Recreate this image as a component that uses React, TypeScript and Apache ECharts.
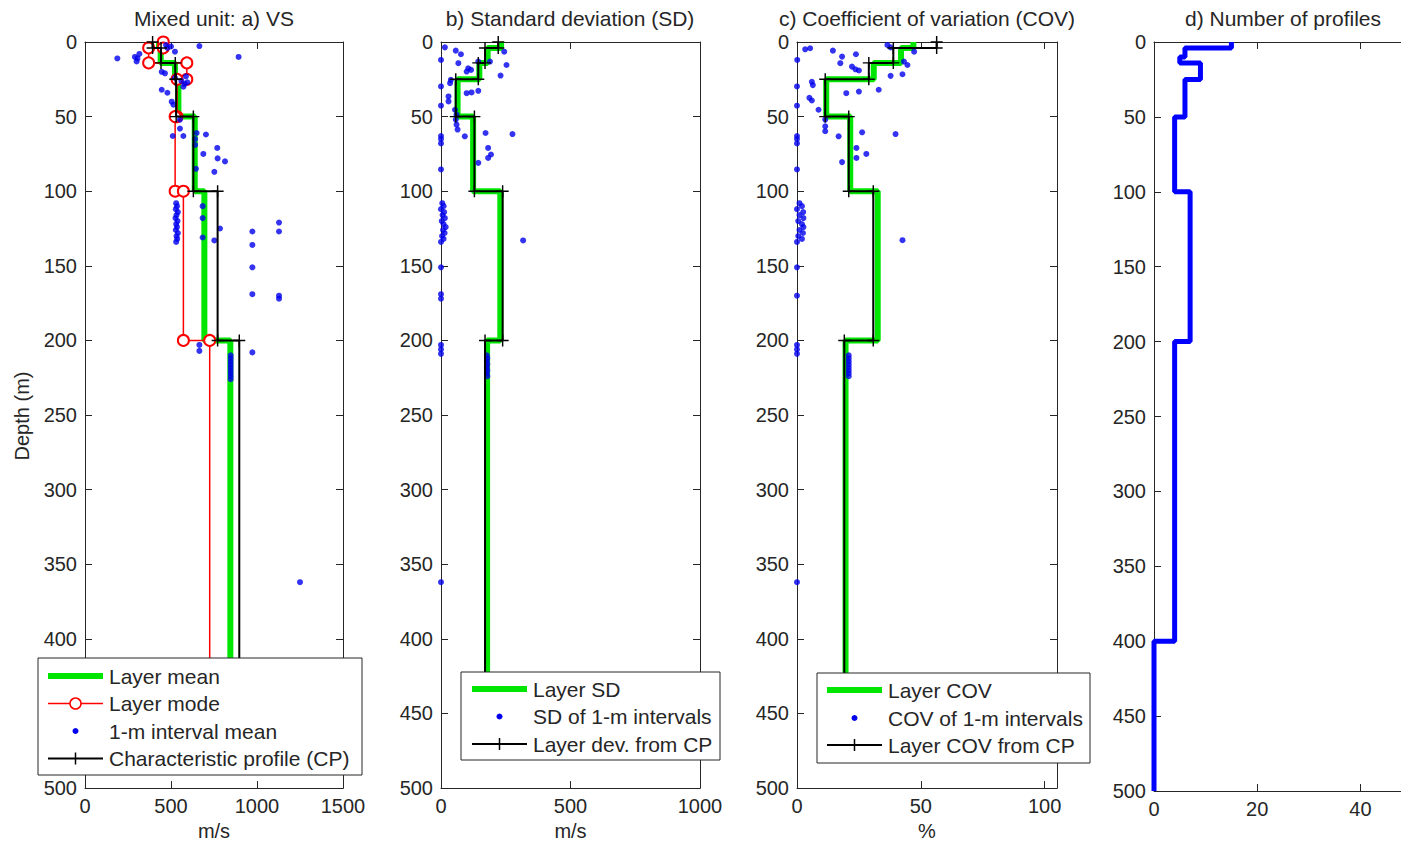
import React, { useEffect, useRef } from "react";
import * as echarts from "echarts";

// ---------- data ----------
const layerTops = [0, 4, 14, 25, 50, 100, 200];
const layerBottoms = [4, 14, 25, 50, 100, 200, 450];

// a) VS (m/s)
const vsLayerMean = [430, 440, 523, 543, 638, 694, 845];
const vsLayerMode = [455, 370, 592, 535, 524, 572, 725];
const vsCP = [393, 442, 525, 530, 630, 771, 897];
const vsIntervalMean = [
  [188, 11], [316, 8], [300, 13], [290, 10], [305, 11], [471, 2], [479, 4], [500, 3], [523, 6.5], [665, 2.7], [893, 10],
  [446, 20], [465, 21], [523, 24], [587, 23], [560, 26], [580, 28], [595, 27], [572, 30], [446, 32], [479, 34],
  [504, 40], [514, 42], [552, 52], [552, 58], [510, 63], [572, 63], [649, 61], [703, 62], [640, 65], [640, 69],
  [769, 71], [688, 75], [771, 78], [814, 80], [645, 85], [752, 87],
  [530, 108], [535, 110], [528, 112], [540, 114], [532, 116], [526, 118], [538, 120], [530, 122], [535, 124],
  [528, 126], [540, 128], [532, 130], [536, 132], [530, 134],
  [684, 110], [684, 118], [684, 131], [785, 125], [752, 133], [973, 127], [973, 136], [973, 151], [973, 169],
  [1128, 121], [1128, 127], [1128, 170], [1128, 172], [665, 203], [665, 207], [973, 208],
  [847, 210], [847, 212], [847, 214], [847, 216], [847, 218], [847, 220], [847, 222], [847, 224], [847, 226],
  [1250, 362],
];

// b) SD (m/s)
const sdLayer = [232, 180, 148, 64, 124, 229, 178];
const sdFromCP = [221, 170, 144, 57, 129, 238, 170];
const sdIntervals = [
  [15, 3.6], [0, 12], [57, 5.8], [77, 8.2], [67, 14.2], [105, 17.6], [99, 19.8], [116, 18.7], [144, 13.1],
  [189, 13.1], [244, 6.5], [253, 15.4], [230, 22.5], [38, 25.4], [35, 27.6], [0, 29.8], [99, 34.3], [118, 33.8],
  [144, 32.7], [29, 36.5], [29, 39.8], [0, 42.7], [54, 45.4], [60, 48.7], [57, 52], [60, 55.4], [64, 58.7],
  [0, 63], [0, 65], [0, 68], [92, 63.2], [172, 61], [276, 61.7], [182, 71], [193, 75.4], [182, 77.7], [144, 81],
  [0, 85.4], [5, 108], [10, 110], [0, 112], [12, 114], [6, 116], [15, 118], [3, 120], [10, 122], [18, 124],
  [8, 126], [14, 128], [4, 130], [10, 132], [0, 134], [0, 151], [0, 169], [0, 172], [0, 203], [0, 206], [0, 209],
  [317, 133], [177, 210], [179, 212], [177, 214], [179, 216], [177, 218], [179, 220], [177, 222], [179, 224],
  [0, 362],
];

// c) COV (%)
const covLayer = [47, 42, 31, 11.8, 21.5, 32.6, 19.6];
const covFromCP = [56.4, 38.9, 29, 11.4, 20.9, 30.8, 19.1];
const covIntervals = [
  [0.1, 12], [3.3, 4.9], [5.3, 4.2], [14.5, 5.8], [18.2, 9.8], [17.5, 14.2], [23.8, 8.2], [22.2, 16.5],
  [23.6, 18.3], [25, 19.1], [36.5, 2], [37.8, 3.6], [43.2, 13.1], [44.6, 15.4], [47.3, 6.5], [42.6, 21.6],
  [37.8, 22.7], [33, 32], [25, 33.2], [19.9, 34.3], [6, 26.7], [6.4, 28.9], [0, 29.8], [5, 37.4], [6, 39.2],
  [8.7, 45.4], [0, 42.7], [11.4, 52], [11.4, 56.5], [11.4, 59.8], [16.8, 63.2], [26.3, 60.5], [39.8, 61.7],
  [24, 71], [28, 75], [24, 77.7], [18.2, 80.5], [0, 63], [0, 65], [0, 68], [0, 85.4],
  [1, 108], [2, 110], [0, 112], [2.5, 114], [1, 116], [2.6, 118], [0.5, 120], [2, 122], [2.6, 124], [1, 126],
  [2.4, 128], [0.5, 130], [2, 132], [0, 134], [0, 151], [0, 170], [42.6, 132.8], [0, 203], [0, 206], [0, 209],
  [20.9, 210], [20.9, 212], [20.9, 214], [20.9, 216], [20.9, 218], [20.9, 220], [20.9, 222], [20.9, 224],
  [0, 362],
];

// d) Number of profiles
const profileDepthTops = [0, 4, 10, 14, 25, 50, 100, 200, 400];
const profileDepthBottoms = [4, 10, 14, 25, 50, 100, 200, 400, 500];
const profileCounts = [15, 6, 5, 9, 6, 4, 7, 4, 0];

const depthTicks = { min: 0, max: 500, interval: 50 };

// ---------- styles ----------
const FONT = "Liberation Sans, Arial, Helvetica, sans-serif";
const TXT = "#262626";
const GREEN = "#00e600";
const RED = "#ff0000";
const BLUE = "#0000ee";
const BLACK = "#000000";
const PLUS = "path://M4.4,0H5.6V4.4H10V5.6H5.6V10H4.4V5.6H0V4.4H4.4Z";

const grids = [
  { left: 85, width: 258 },
  { left: 441, width: 259 },
  { left: 797, width: 260 },
  { left: 1154, width: 258 },
];
const GRID_TOP = 42;
const GRID_H = 749;

function steps(values: number[], tops: number[], bottoms: number[]) {
  const pts: number[][] = [];
  values.forEach((v, i) => {
    pts.push([v, tops[i]]);
    pts.push([v, bottoms[i]]);
  });
  return pts;
}

function xAxesFor(gi: number, max: number, interval: number, name: string, labelMax: number) {
  const common = {
    gridIndex: gi,
    type: "value",
    min: 0,
    max,
    interval,
    splitLine: { show: false },
    axisLine: { show: true, onZero: false, lineStyle: { color: TXT, width: 1 } },
    axisTick: { show: true, inside: true, length: 7, lineStyle: { color: TXT, width: 1 } },
  };
  return [
    {
      ...common,
      position: "bottom",
      name,
      nameLocation: "middle",
      nameGap: 32,
      nameTextStyle: { color: TXT, fontSize: 20, fontFamily: FONT },
      axisLabel: {
        show: true,
        margin: 8,
        color: TXT,
        fontSize: 20,
        fontFamily: FONT,
        formatter: (v: number) => (v > labelMax ? "" : String(v)),
      },
    },
    { ...common, position: "top", axisLabel: { show: false } },
  ];
}

function yAxesFor(gi: number) {
  const common = {
    gridIndex: gi,
    type: "value",
    inverse: true,
    ...depthTicks,
    splitLine: { show: false },
    axisLine: { show: true, onZero: false, lineStyle: { color: TXT, width: 1 } },
    axisTick: { show: true, inside: true, length: 7, lineStyle: { color: TXT, width: 1 } },
  };
  return [
    {
      ...common,
      position: "left",
      axisLabel: { show: true, margin: 8, color: TXT, fontSize: 20, fontFamily: FONT },
    },
    { ...common, position: "right", axisLabel: { show: false } },
  ];
}

function text(x: number, y: number, t: string, extra: any = {}, size = 21) {
  return {
    type: "text",
    x,
    y,
    z: 101,
    ...extra,
    style: {
      text: t,
      fill: TXT,
      fontSize: size,
      fontFamily: FONT,
      align: extra.align || "left",
      textAlign: extra.align || "left",
      verticalAlign: "middle",
      textVerticalAlign: "middle",
    },
  };
}

type Entry = { kind: "thick" | "circle" | "dot" | "plus"; label: string };

function legend(x: number, y: number, w: number, h: number, rows: number[], iconX: number, entries: Entry[]) {
  const els: any[] = [
    { type: "rect", z: 100, shape: { x, y, width: w, height: h }, style: { fill: "#ffffff", stroke: TXT, lineWidth: 1 } },
  ];
  entries.forEach((e, i) => {
    const cy = rows[i];
    const x1 = iconX;
    const x2 = iconX + 55;
    const mx = (x1 + x2) / 2;
    if (e.kind === "thick") {
      els.push({ type: "line", z: 101, shape: { x1, y1: cy, x2, y2: cy }, style: { stroke: GREEN, lineWidth: 6 } });
    } else if (e.kind === "circle") {
      els.push({ type: "line", z: 101, shape: { x1, y1: cy, x2, y2: cy }, style: { stroke: RED, lineWidth: 1.5 } });
      els.push({ type: "circle", z: 102, shape: { cx: mx, cy, r: 5.5 }, style: { fill: "#ffffff", stroke: RED, lineWidth: 1.5 } });
    } else if (e.kind === "dot") {
      els.push({ type: "circle", z: 101, shape: { cx: mx, cy, r: 3 }, style: { fill: BLUE } });
    } else {
      els.push({ type: "line", z: 101, shape: { x1, y1: cy, x2, y2: cy }, style: { stroke: BLACK, lineWidth: 2 } });
      els.push({ type: "line", z: 102, shape: { x1: mx, y1: cy - 6, x2: mx, y2: cy + 6 }, style: { stroke: BLACK, lineWidth: 1.5 } });
    }
    els.push(text(x2 + 6, cy, e.label, { z: 102 }));
  });
  return els;
}

export default function App() {
  const ref = useRef<HTMLDivElement>(null);

  useEffect(() => {
    if (!ref.current) return;
    const chart = echarts.init(ref.current, null, { renderer: "svg" });

    const thickLine = (name: string, data: number[][], gi: number) => ({
      name,
      type: "line",
      xAxisIndex: gi * 2,
      yAxisIndex: gi * 2,
      data,
      symbol: "none",
      lineStyle: { color: GREEN, width: 6 },
      itemStyle: { color: GREEN },
      z: 2,
    });
    const plusLine = (name: string, data: number[][], gi: number) => ({
      name,
      type: "line",
      xAxisIndex: gi * 2,
      yAxisIndex: gi * 2,
      data,
      symbol: PLUS,
      symbolSize: 12,
      showSymbol: true,
      lineStyle: { color: BLACK, width: 2 },
      itemStyle: { color: BLACK },
      z: 5,
    });
    const dots = (name: string, data: number[][], gi: number) => ({
      name,
      type: "scatter",
      xAxisIndex: gi * 2,
      yAxisIndex: gi * 2,
      data,
      symbol: "circle",
      symbolSize: 6,
      itemStyle: { color: BLUE },
      z: 4,
    });

    const option: any = {
      animation: false,
      backgroundColor: "#ffffff",
      grid: grids.map((g) => ({ left: g.left, width: g.width, top: GRID_TOP, height: GRID_H, containLabel: false })),
      xAxis: [
        ...xAxesFor(0, 1500, 500, "m/s", 1500),
        ...xAxesFor(1, 1000, 500, "m/s", 1000),
        ...xAxesFor(2, 105, 50, "%", 100),
        ...xAxesFor(3, 50, 20, "", 40),
      ],
      yAxis: [...yAxesFor(0), ...yAxesFor(1), ...yAxesFor(2), ...yAxesFor(3)],
      series: [
        thickLine("Layer mean", steps(vsLayerMean, layerTops, layerBottoms), 0),
        {
          name: "Layer mode",
          type: "line",
          xAxisIndex: 0,
          yAxisIndex: 0,
          data: steps(vsLayerMode, layerTops, layerBottoms),
          symbol: "emptyCircle",
          symbolSize: 11,
          showSymbol: true,
          lineStyle: { color: RED, width: 1.5 },
          itemStyle: { color: RED, borderColor: RED, borderWidth: 1.5 },
          z: 3,
        },
        dots("1-m interval mean", vsIntervalMean, 0),
        plusLine("Characteristic profile (CP)", steps(vsCP, layerTops, layerBottoms), 0),

        thickLine("Layer SD", steps(sdLayer, layerTops, layerBottoms), 1),
        dots("SD of 1-m intervals", sdIntervals, 1),
        plusLine("Layer dev. from CP", steps(sdFromCP, layerTops, layerBottoms), 1),

        thickLine("Layer COV", steps(covLayer, layerTops, layerBottoms), 2),
        dots("COV of 1-m intervals", covIntervals, 2),
        plusLine("Layer COV from CP", steps(covFromCP, layerTops, layerBottoms), 2),

        {
          name: "Number of profiles",
          type: "line",
          xAxisIndex: 6,
          yAxisIndex: 6,
          data: steps(profileCounts, profileDepthTops, profileDepthBottoms),
          symbol: "none",
          lineStyle: { color: "#0000ff", width: 5 },
          z: 3,
        },
      ],
      graphic: [
        text(214, 18, "Mixed unit: a) VS", { align: "center" }),
        text(570, 18, "b) Standard deviation (SD)", { align: "center" }),
        text(927, 18, "c) Coefficient of variation (COV)", { align: "center" }),
        text(1283, 18, "d) Number of profiles", { align: "center" }),
        text(22, 416, "Depth (m)", { align: "center", rotation: Math.PI / 2 }, 20),
        ...legend(38, 658, 324, 117, [676, 703.5, 731, 758.5], 48, [
          { kind: "thick", label: "Layer mean" },
          { kind: "circle", label: "Layer mode" },
          { kind: "dot", label: "1-m interval mean" },
          { kind: "plus", label: "Characteristic profile (CP)" },
        ]),
        ...legend(461, 672, 259, 88, [689, 716.5, 744], 472, [
          { kind: "thick", label: "Layer SD" },
          { kind: "dot", label: "SD of 1-m intervals" },
          { kind: "plus", label: "Layer dev. from CP" },
        ]),
        ...legend(817, 673, 273, 90, [690, 718, 745], 827, [
          { kind: "thick", label: "Layer COV" },
          { kind: "dot", label: "COV of 1-m intervals" },
          { kind: "plus", label: "Layer COV from CP" },
        ]),
      ],
    };

    chart.setOption(option);
    return () => chart.dispose();
  }, []);

  return (
    <div
      ref={ref}
      style={{ position: "fixed", left: 0, top: 0, width: 1430, height: 846, background: "#ffffff" }}
    />
  );
}
